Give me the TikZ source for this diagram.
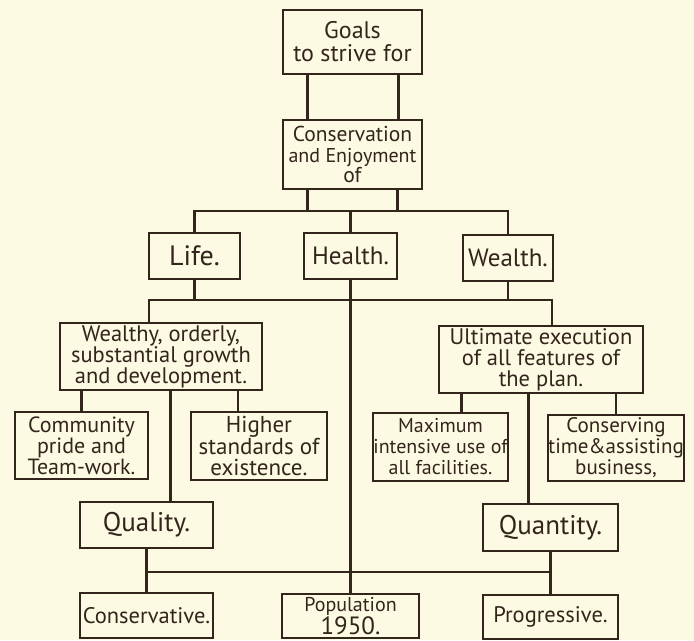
\documentclass[tikz,border=0pt]{standalone}
\usepackage{fontspec}
\setmainfont{PT Sans}
\definecolor{PlanInk}{HTML}{33241C}
\definecolor{PlanPaper}{HTML}{FCFAE3}

\begin{document}
\begin{tikzpicture}[x=1pt,y=-1pt,
  every node/.style={font=\fontsize{22.5}{20}\selectfont,text=PlanInk},
  planbox/.style={draw=PlanInk,line width=2.2pt,align=center,inner sep=0pt},
  sz/.style 2 args={minimum width=#1pt,minimum height=#2pt},
  fs/.style 2 args={font=\fontsize{#1}{#2}\selectfont},
  bigword/.style={font=\fontsize{25}{26}\selectfont},
  link/.style={PlanInk,line width=2.2pt}]
  \fill[PlanPaper] (0,0) rectangle (694,640);
  % top of the plan
  \node[planbox,fs={24}{23},sz={139}{64}] (goals) at (352.5,42) {Goals\\to strive for};
  \node[planbox,fs={21.5}{20.5},sz={139}{69}] (cons) at (352.5,154.5) {Conservation\\{\fontsize{20}{20.5}\selectfont and Enjoyment}\\of};
  \node[planbox,fs={28}{26},sz={91}{46}] (life) at (194.5,256) {Life.};
  \node[planbox,bigword,sz={93}{46}] (health) at (350.5,256) {Health.};
  \node[planbox,bigword,sz={90}{46}] (wealth) at (508,258) {Wealth.};
  % second level
  \node[planbox,fs={22.5}{21},sz={202}{67}] (wealthy) at (161,356.5) {Wealthy, orderly,\\substantial growth\\and development.};
  \node[planbox,fs={22.5}{21},sz={204}{67}] (ultimate) at (541,359.5) {Ultimate execution\\of all features of\\the plan.};
  \node[planbox,fs={22}{21},sz={133}{67}] (community) at (81.5,445.5) {Community\\pride and\\Team-work.};
  \node[planbox,fs={23}{21.5},sz={136}{68}] (higher) at (259,446) {Higher\\standards of\\existence.};
  \node[planbox,fs={20}{21},sz={135}{68}] (maximum) at (440.5,447) {Maximum\\intensive use of\\all facilities.};
  \node[planbox,fs={21}{21},sz={134}{66}] (conserving) at (616,448) {Conserving\\time\&assisting\\business,};
  \node[planbox,fs={27}{26},sz={133}{46}] (quality) at (146.5,525) {Quality.};
  \node[planbox,fs={27}{26},sz={135}{47}] (quantity) at (550.5,527.5) {Quantity.};
  % bottom row
  \node[planbox,sz={133}{45}] (conservative) at (146.5,615.5) {Conservative.};
  \node[planbox,sz={137}{44},fs={20}{19}] (population) at (350.5,616) {Population\\{\fontsize{25}{19}\selectfont 1950.}};
  \node[planbox,sz={135}{44}] (progressive) at (550.5,617) {Progressive.};

  \coordinate (busA) at (0,211);
  \coordinate (busB) at (0,300);
  \coordinate (busC) at (0,572);

  \draw[link] ([xshift=-45pt]goals.south) -- ([xshift=-45pt]cons.north);
  \draw[link] ([xshift=46pt]goals.south) -- ([xshift=46pt]cons.north);
  \draw[link] ([xshift=-45pt]cons.south) -- ([xshift=-45pt]cons.south |- busA);
  \draw[link] ([xshift=45pt]cons.south) -- ([xshift=45pt]cons.south |- busA);
  \draw[link] (life.north) -- (life.north |- busA) -- (wealth.north |- busA) -- (wealth.north);
  \draw[link] (health.north) -- (health.north |- busA);

  \draw[link] (life.south) -- (life.south |- busB);
  \draw[link] (wealth.south) -- (wealth.south |- busB);
  \draw[link] ([xshift=-12pt]wealthy.north) |- ([xshift=11pt]ultimate.north |- busB) -- ([xshift=11pt]ultimate.north);
  \draw[link] (health.south) -- (population.north);

  \draw[link] (community.north) -- (community.north |- wealthy.south);
  \draw[link] ([xshift=-21pt]higher.north) -- ([xshift=-21pt]higher.north |- wealthy.south);
  \draw[link] ([xshift=24pt]quality.north) -- ([xshift=24pt]quality.north |- wealthy.south);
  \draw[link] ([xshift=21pt]maximum.north) -- ([xshift=21pt]maximum.north |- ultimate.south);
  \draw[link] ([xshift=-22pt]quantity.north) -- ([xshift=-22pt]quantity.north |- ultimate.south);
  \draw[link] (conserving.north) -- (conserving.north |- ultimate.south);

  \draw[link] (quality.south) -- (conservative.north);
  \draw[link] (quantity.south) -- (progressive.north);
  \draw[link] (quality.south |- busC) -- (quantity.south |- busC);
\end{tikzpicture}
\end{document}
